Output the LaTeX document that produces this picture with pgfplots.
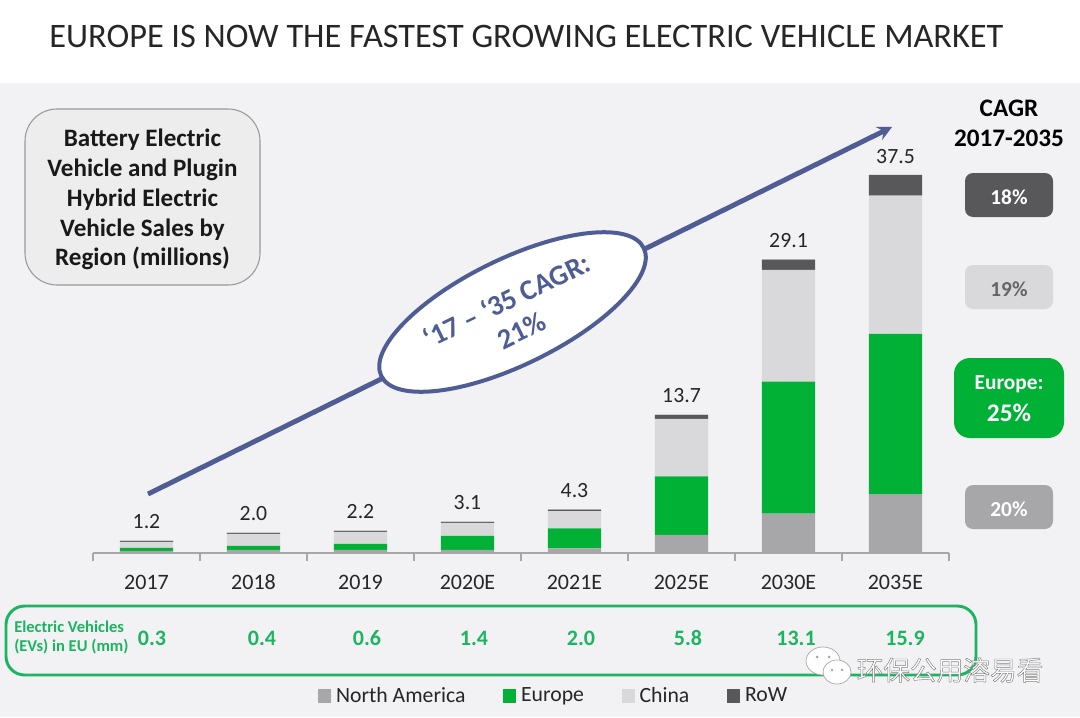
\documentclass[border=0pt]{standalone}
\usepackage{fontspec}
\usepackage{pgfplots}
\pgfplotsset{compat=1.18}
\setmainfont{Carlito}
\newfontfamily\cjk{Noto Sans CJK SC}
\definecolor{bgcol}{HTML}{F2F1F3}
\definecolor{nacol}{HTML}{A7A6A8}
\definecolor{eucol}{HTML}{00B135}
\definecolor{cncol}{HTML}{D9D8DA}
\definecolor{rwcol}{HTML}{58585A}
\definecolor{ringcol}{HTML}{4F5D95}
\definecolor{evcol}{HTML}{1BB562}
\newcommand{\fs}[2]{\fontsize{#1}{#2}\selectfont}
\begin{document}
\begin{tikzpicture}[x=0.75pt,y=-0.75pt]
\useasboundingbox (0,0) rectangle (1080,717);
\fill[white] (0,0) rectangle (1080,717);
\fill[bgcol] (0,83) rectangle (1080,717);
\coordinate (o) at (93,553);

\begin{axis}[
	at={(o)}, anchor=south west,
	scale only axis,
	width=642pt, height=302.4pt,
	xmin=-0.5, xmax=7.5,
	ymin=0, ymax=40,
	ybar stacked,
	bar width=40pt,
	axis x line=bottom,
	axis y line=none,
	x axis line style={-, draw=nacol, line width=1.1pt},
	xtick={0,1,2,3,4,5,6,7},
	xticklabels={2017,2018,2019,2020E,2021E,2025E,2030E,2035E},
	minor xtick={-0.5,0.5,1.5,2.5,3.5,4.5,5.5,6.5,7.5},
	major tick length=0pt,
	minor tick length=6pt,
	tick align=outside,
	minor tick style={draw=nacol, line width=0.8pt},
	xticklabel style={font=\fs{16.5}{19}, text=black!85, text height=11pt, text depth=0pt, yshift=-12.5pt},
	clip=false,
	legend columns=4,
	legend cell align=left,
	legend style={
		at={(0.5385,-0.3545)}, anchor=center,
		draw=none, fill=none, font=\fs{16.3}{19}, text=black!85,
		inner sep=0pt, outer sep=0pt,
		/tikz/every odd column/.append style={column sep=1.5pt},
		/tikz/every even column/.append style={column sep=26.2pt},
	},
	legend image code/.code={\fill[#1] (0pt,-5pt) rectangle (10pt,5pt);},
]
\addplot[fill=nacol, draw=none] coordinates {(0,0.2) (1,0.3) (2,0.3) (3,0.3) (4,0.45) (5,1.8) (6,3.9) (7,5.85)};
\addplot[fill=eucol, draw=none] coordinates {(0,0.3) (1,0.4) (2,0.6) (3,1.4) (4,2.0) (5,5.8) (6,13.1) (7,15.9)};
\addplot[fill=cncol, draw=none] coordinates {(0,0.6) (1,1.2) (2,1.2) (3,1.3) (4,1.7) (5,5.7) (6,11.1) (7,13.7)};
\addplot[fill=rwcol, draw=none] coordinates {(0,0.1) (1,0.1) (2,0.1) (3,0.1) (4,0.15) (5,0.4) (6,1.0) (7,2.05)};
% totals, on a tiny extra series so they sit at the top of each stack
\addplot[draw=none, fill=rwcol, forget plot,
	nodes near coords,
	point meta=explicit symbolic,
	every node near coord/.append style={font=\fs{16.3}{19}, text=black!85, text height=11pt, text depth=0pt, yshift=14.5pt},
] coordinates {(0,0.001)[1.2] (1,0.001)[2.0] (2,0.001)[2.2] (3,0.001)[3.1] (4,0.001)[4.3] (5,0.001)[13.7] (6,0.001)[29.1] (7,0.001)[37.5]};
\legend{North America,Europe,China,RoW}
\end{axis}

% title
\node[font=\fs{25.75}{30}, text=black!85] at (526.5,36) {EUROPE IS NOW THE FASTEST GROWING ELECTRIC VEHICLE MARKET};

% label box
\draw[draw=black!40, fill=black!7, line width=0.8pt, rounded corners=24pt] (25,109) rectangle (260,285);
\node[font=\fs{18.8}{22.4}\bfseries, text=black!90, align=center] at (142.5,199.5)
	{Battery Electric\\Vehicle and Plugin\\Hybrid Electric\\Vehicle Sales by\\Region (millions)};

% growth arrow and ellipse
\draw[draw=ringcol, line width=3.7pt, -stealth] (148,494) -- (892,127);
\draw[draw=ringcol, fill=white, line width=3pt, rotate around={26:(512.5,312)}] (512.5,312) ellipse (146 and 53);
\node[font=\fs{21.5}{25}\bfseries, text=ringcol, align=center, rotate=26] at (514,315)
	{‘17 – ‘35 CAGR:\\21\%};

% CAGR column
\node[font=\fs{18.9}{22.4}\bfseries, text=black, align=center] at (1009,123) {CAGR\\2017-2035};
\fill[rwcol, rounded corners=6pt] (965,173) rectangle (1053,217);
\node[font=\fs{16}{19}\bfseries, text=white] at (1009,197) {18\%};
\fill[cncol, rounded corners=6pt] (965,265) rectangle (1053,309);
\node[font=\fs{16}{19}\bfseries, text=black!60] at (1009,289) {19\%};
\fill[eucol, rounded corners=12pt] (954,358) rectangle (1064,438);
\node[font=\fs{16}{24}\bfseries, text=white, align=center] at (1009,399) {Europe:\\\fs{19}{24}25\%};
\fill[nacol, rounded corners=6pt] (965,485) rectangle (1053,529);
\node[font=\fs{16}{19}\bfseries, text=white] at (1009,509) {20\%};

% EV row
\draw[draw=evcol, line width=2.2pt, rounded corners=14pt] (6,606) rectangle (976,675);
\node[font=\fs{12.4}{14.3}\bfseries, text=evcol, align=left, anchor=west, inner sep=0pt] at (14,637) {Electric Vehicles\\(EVs) in EU (mm)};
\foreach \x/\v in {152/0.3,262/0.4,367/0.6,474/1.4,581/2.0,688/5.8,796/13.1,905/15.9}
	\node[font=\fs{16.5}{19}\bfseries, text=evcol] at (\x,638) {\v};

% watermark
\begin{scope}[draw=black!35, fill=white, line width=0.5pt]
	\filldraw (823,661) ellipse (17 and 14);
	\filldraw (837,672) ellipse (14 and 12);
\end{scope}
\fill[black!35] (817,657) circle (1.5) (829,657) circle (1.5) (832,670) circle (1.3) (842,670) circle (1.3);
\node[font=\cjk\fs{20}{24}, text=white] at (950,670)
	{\special{pdf:code q 2 Tr 0.35 w 0.5 0.5 0.5 RG 1 1 1 rg}环保公用溶易看\special{pdf:code Q}};
\end{tikzpicture}
\end{document}
